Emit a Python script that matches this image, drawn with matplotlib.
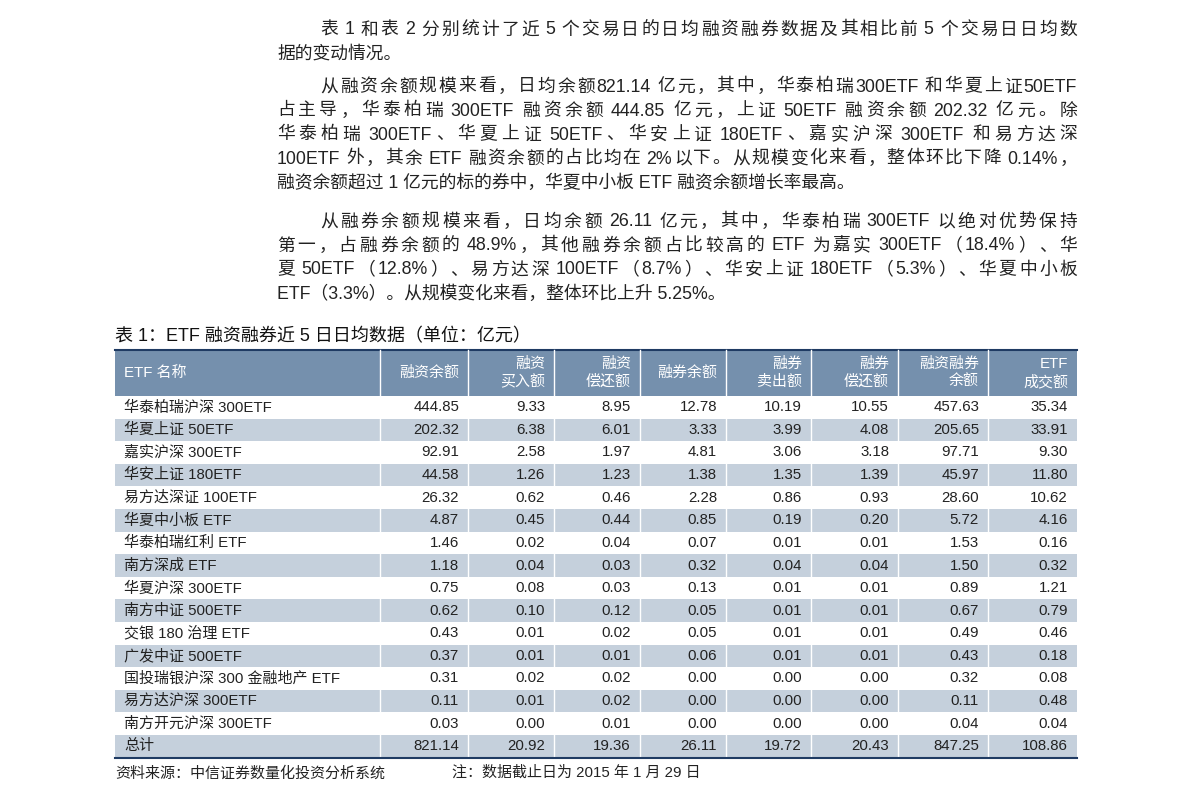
"""Recreate ETF margin trading page (text + table)."""
import re
import matplotlib
matplotlib.use("Agg")
import matplotlib.pyplot as plt

plt.rcParams["font.family"] = ["Liberation Sans", "Noto Sans CJK SC", "DejaVu Sans"]

paragraphs = [
    ["表 1 和表 2 分别统计了近 5 个交易日的日均融资融券数据及其相比前 5 个交易日日均数",
     "据的变动情况。"],
    ["从融资余额规模来看，日均余额821.14 亿元，其中，华泰柏瑞300ETF 和华夏上证50ETF",
     "占主导，华泰柏瑞 300ETF 融资余额 444.85 亿元，上证 50ETF 融资余额 202.32 亿元。除",
     "华泰柏瑞 300ETF、华夏上证 50ETF、华安上证 180ETF、嘉实沪深 300ETF 和易方达深",
     "100ETF 外，其余 ETF 融资余额的占比均在 2%以下。从规模变化来看，整体环比下降 0.14%，",
     "融资余额超过 1 亿元的标的券中，华夏中小板 ETF 融资余额增长率最高。"],
    ["从融券余额规模来看，日均余额 26.11 亿元，其中，华泰柏瑞 300ETF 以绝对优势保持",
     "第一，占融券余额的 48.9%，其他融券余额占比较高的 ETF 为嘉实 300ETF（18.4%）、华",
     "夏 50ETF（12.8%）、易方达深 100ETF（8.7%）、华安上证 180ETF（5.3%）、华夏中小板",
     "ETF（3.3%）。从规模变化来看，整体环比上升 5.25%。"],
]
para_y = [30, 87, 222]

table_title = "表 1：ETF 融资融券近 5 日日均数据（单位：亿元）"
headers = ["ETF 名称", "融资余额", "融资\n买入额", "融资\n偿还额", "融券余额",
           "融券\n卖出额", "融券\n偿还额", "融资融券\n余额", "ETF\n成交额"]
names = ["华泰柏瑞沪深 300ETF", "华夏上证 50ETF", "嘉实沪深 300ETF", "华安上证 180ETF",
         "易方达深证 100ETF", "华夏中小板 ETF", "华泰柏瑞红利 ETF", "南方深成 ETF",
         "华夏沪深 300ETF", "南方中证 500ETF", "交银 180 治理 ETF", "广发中证 500ETF",
         "国投瑞银沪深 300 金融地产 ETF", "易方达沪深 300ETF", "南方开元沪深 300ETF", "总计"]
values = [
    [444.85, 9.33, 8.95, 12.78, 10.19, 10.55, 457.63, 35.34],
    [202.32, 6.38, 6.01, 3.33, 3.99, 4.08, 205.65, 33.91],
    [92.91, 2.58, 1.97, 4.81, 3.06, 3.18, 97.71, 9.30],
    [44.58, 1.26, 1.23, 1.38, 1.35, 1.39, 45.97, 11.80],
    [26.32, 0.62, 0.46, 2.28, 0.86, 0.93, 28.60, 10.62],
    [4.87, 0.45, 0.44, 0.85, 0.19, 0.20, 5.72, 4.16],
    [1.46, 0.02, 0.04, 0.07, 0.01, 0.01, 1.53, 0.16],
    [1.18, 0.04, 0.03, 0.32, 0.04, 0.04, 1.50, 0.32],
    [0.75, 0.08, 0.03, 0.13, 0.01, 0.01, 0.89, 1.21],
    [0.62, 0.10, 0.12, 0.05, 0.01, 0.01, 0.67, 0.79],
    [0.43, 0.01, 0.02, 0.05, 0.01, 0.01, 0.49, 0.46],
    [0.37, 0.01, 0.01, 0.06, 0.01, 0.01, 0.43, 0.18],
    [0.31, 0.02, 0.02, 0.00, 0.00, 0.00, 0.32, 0.08],
    [0.11, 0.01, 0.02, 0.00, 0.00, 0.00, 0.11, 0.48],
    [0.03, 0.00, 0.01, 0.00, 0.00, 0.00, 0.04, 0.04],
    [821.14, 20.92, 19.36, 26.11, 19.72, 20.43, 847.25, 108.86],
]
source = "资料来源：中信证券数量化投资分析系统"
note = "注：数据截止日为 2015 年 1 月 29 日"

TXT = "#222222"
HEAD_BG = "#7590ad"
ALT_BG = "#c5d0dc"
LINE = "#1f3b63"

fig = plt.figure(figsize=(11.91, 8.01), dpi=100)
ax = fig.add_axes([0, 0, 1, 1])
ax.set_xlim(0, 1191)
ax.set_ylim(801, 0)
ax.axis("off")
renderer = fig.canvas.get_renderer()


def justified(line, x0, x1, y, size, space=4.5):
    # split into CJK chars and latin/number runs; spaces add a fixed gap
    tokens = re.findall(r"[A-Za-z0-9.%]+|\s+|.", line)
    arts, widths, pre = [], [], []
    inv = ax.transData.inverted()
    pending = 0.0
    for t in tokens:
        if t.isspace():
            pending += space
            continue
        a = ax.text(0, y, t, fontsize=size, color=TXT, va="center")
        bb = a.get_window_extent(renderer)
        widths.append(inv.transform((bb.x1, bb.y0))[0] - inv.transform((bb.x0, bb.y0))[0])
        arts.append(a)
        pre.append(pending)
        pending = 0.0
    fixed = sum(pre[1:])
    gap = (x1 - x0 - sum(widths) - fixed) / max(len(arts) - 1, 1)
    x = x0
    for k, (a, w) in enumerate(zip(arts, widths)):
        if k > 0:
            x += gap + pre[k]
        a.set_x(x)
        x += w


for para, y0 in zip(paragraphs, para_y):
    for i, line in enumerate(para):
        y = y0 + i * 24
        x0 = 320 if i == 0 else 277
        if i < len(para) - 1:
            justified(line, x0, 1077, y, 12.8)
        else:
            ax.text(x0, y, line, fontsize=12.8, color=TXT, va="center")

ax.text(115, 337, table_title, fontsize=13, color="#111111", va="center")

col_edges = [115, 380, 468, 554, 640, 726, 811, 898, 988, 1077]
head_top, head_bot = 350, 396
row_h = 22.6
FS = 10.8

ax.fill_between([col_edges[0], col_edges[-1]], head_top, head_bot, color=HEAD_BG, lw=0)
ax.plot([col_edges[0], col_edges[-1]], [head_top, head_top], color=LINE, lw=1.5)
for j, h in enumerate(headers):
    if j == 0:
        ax.text(124, (head_top + head_bot) / 2, h, fontsize=FS, color="white", va="center")
    else:
        ax.text(col_edges[j + 1] - 9, (head_top + head_bot) / 2, h, fontsize=FS,
                color="white", va="center", ha="right", linespacing=1.35)

for i, (name, row) in enumerate(zip(names, values)):
    top = head_bot + i * row_h
    if i % 2 == 1:
        ax.fill_between([col_edges[0], col_edges[-1]], top, top + row_h, color=ALT_BG, lw=0)
    cy = top + row_h / 2
    ax.text(124, cy, name, fontsize=FS, color=TXT, va="center")
    for j, v in enumerate(row):
        ax.text(col_edges[j + 2] - 9, cy, f"{v:.2f}", fontsize=FS, color=TXT,
                va="center", ha="right")

table_bot = head_bot + len(names) * row_h
for x in col_edges[1:-1]:
    ax.plot([x, x], [head_top, table_bot], color="white", lw=1)
ax.plot([col_edges[0], col_edges[-1]], [table_bot, table_bot], color=LINE, lw=1.5)

ax.text(115, 773, source, fontsize=10.8, color=TXT, va="center")
ax.text(452, 773, note, fontsize=10.8, color=TXT, va="center")

fig.savefig("out.png", dpi=100)
